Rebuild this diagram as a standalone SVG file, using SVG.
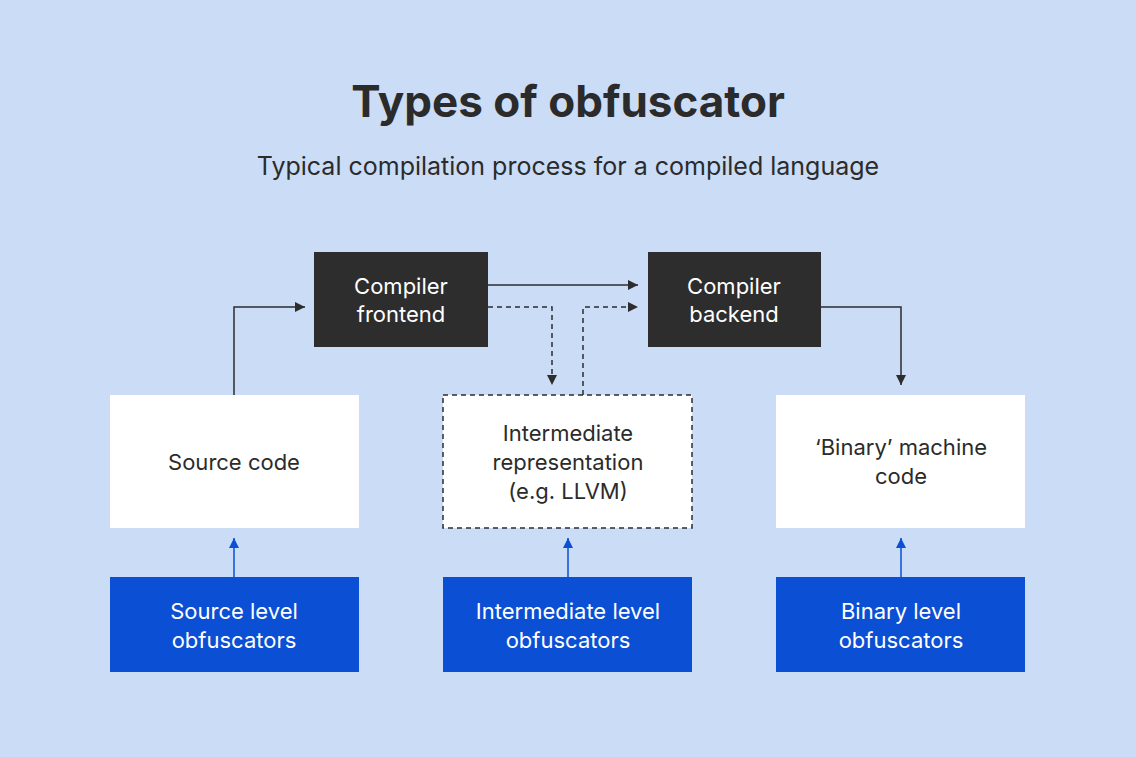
<svg xmlns="http://www.w3.org/2000/svg" width="1136" height="757" viewBox="0 0 1136 757">
<style>
text{font-family:Inter,"Liberation Sans",sans-serif;text-anchor:middle;fill:#2b2b2b}
.dk{fill:#2d2d2d}.wh{fill:#fff}.bl{fill:#0a4fd4}
.tw{fill:#fff;font-size:22px}.tb{font-size:22px}
.c{fill:none;stroke:#2d2d2d;stroke-width:1.5}
.d{stroke-dasharray:5 4}
.cb{fill:none;stroke:#0a4fd4;stroke-width:1.5}
</style>
<defs>
<marker id="a" viewBox="0 0 10 10" refX="10" refY="5" markerWidth="10" markerHeight="10" markerUnits="userSpaceOnUse" orient="auto"><path d="M0,0L10,5L0,10z" fill="#2d2d2d"/></marker>
<marker id="b" viewBox="0 0 10 10" refX="10" refY="5" markerWidth="10" markerHeight="10" markerUnits="userSpaceOnUse" orient="auto"><path d="M0,0L10,5L0,10z" fill="#0a4fd4"/></marker>
</defs>
<rect width="1136" height="757" fill="#cbdcf6"/>
<text x="568" y="117" font-size="44" font-weight="bold">Types of obfuscator</text>
<text x="568" y="175" font-size="25">Typical compilation process for a compiled language</text>
<g id="connectors">
<path class="c" d="M234,395V307H305" marker-end="url(#a)"/>
<path class="c" d="M488,285H638" marker-end="url(#a)"/>
<path class="c d" d="M488,307H552V385" marker-end="url(#a)"/>
<path class="c d" d="M583,395V307H638" marker-end="url(#a)"/>
<path class="c" d="M821,307H901V385" marker-end="url(#a)"/>
<path class="cb" d="M234,577V538" marker-end="url(#b)"/>
<path class="cb" d="M568,577V538" marker-end="url(#b)"/>
<path class="cb" d="M901,577V538" marker-end="url(#b)"/>
</g>
<g id="frontend"><rect class="dk" x="314" y="252" width="174" height="95"/><text class="tw" x="401" y="294">Compiler</text><text class="tw" x="401" y="322">frontend</text></g>
<g id="backend"><rect class="dk" x="648" y="252" width="173" height="95"/><text class="tw" x="734" y="294">Compiler</text><text class="tw" x="734" y="322">backend</text></g>
<g id="source"><rect class="wh" x="110" y="395" width="249" height="133"/><text class="tb" x="234" y="470">Source code</text></g>
<g id="ir"><rect class="wh" x="443" y="395" width="249" height="133" stroke="#2d2d2d" stroke-width="1.5" stroke-dasharray="5 4"/><text class="tb" x="568" y="441">Intermediate</text><text class="tb" x="568" y="470">representation</text><text class="tb" x="568" y="499">(e.g. LLVM)</text></g>
<g id="binary"><rect class="wh" x="776" y="395" width="249" height="133"/><text class="tb" x="901" y="455">‘Binary’ machine</text><text class="tb" x="901" y="484">code</text></g>
<g id="srcobf"><rect class="bl" x="110" y="577" width="249" height="95"/><text class="tw" x="234" y="619">Source level</text><text class="tw" x="234" y="648">obfuscators</text></g>
<g id="irobf"><rect class="bl" x="443" y="577" width="249" height="95"/><text class="tw" x="568" y="619">Intermediate level</text><text class="tw" x="568" y="648">obfuscators</text></g>
<g id="binobf"><rect class="bl" x="776" y="577" width="249" height="95"/><text class="tw" x="901" y="619">Binary level</text><text class="tw" x="901" y="648">obfuscators</text></g>
</svg>
